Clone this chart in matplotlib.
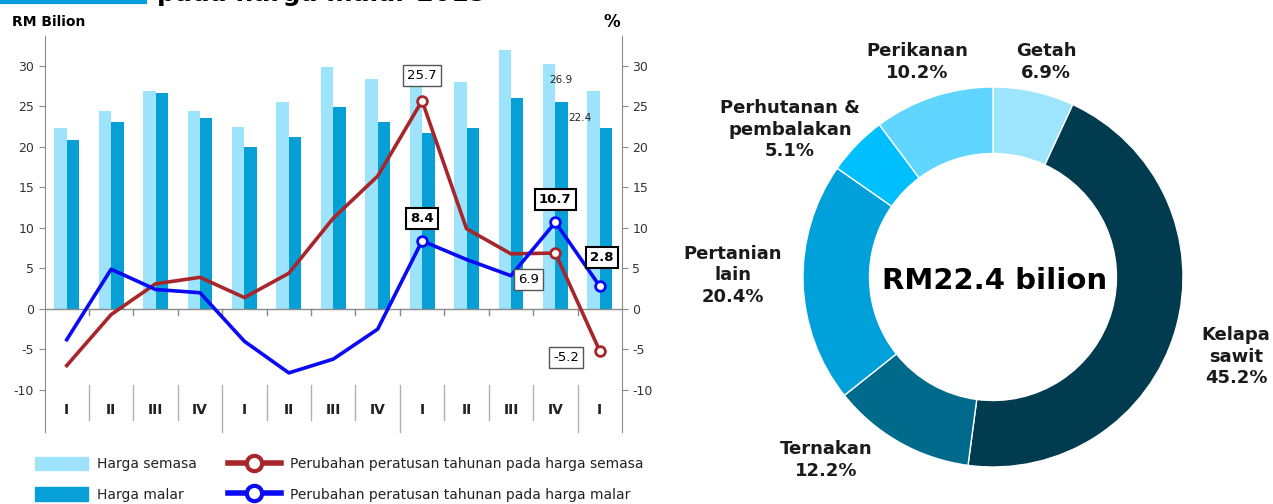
import matplotlib
matplotlib.use("Agg")
import matplotlib.pyplot as plt
from matplotlib.patches import Patch
from matplotlib.lines import Line2D

plt.rcParams['font.family'] = ['DejaVu Sans']
plt.rcParams['axes.unicode_minus'] = False

# ---- data ----
quarters = ['I', 'II', 'III', 'IV', 'I', 'II', 'III', 'IV', 'I', 'II', 'III', 'IV', 'I']
harga_semasa = [22.3, 24.4, 26.9, 24.4, 22.5, 25.5, 29.9, 28.4, 27.7, 28.0, 32.0, 30.3, 26.9]
harga_malar = [20.8, 23.1, 26.6, 23.6, 20.0, 21.2, 24.9, 23.1, 21.7, 22.4, 26.0, 25.5, 22.4]
pct_semasa = [-7.0, -0.7, 3.1, 3.9, 1.4, 4.4, 11.2, 16.4, 25.7, 9.9, 6.8, 6.9, -5.2]
pct_malar = [-3.8, 4.9, 2.4, 2.0, -4.0, -7.9, -6.2, -2.5, 8.4, 6.1, 4.1, 10.7, 2.8]

sectors = ['Getah', 'Kelapa\nsawit', 'Ternakan', 'Pertanian\nlain',
           'Perhutanan &\npembalakan', 'Perikanan']
shares = [6.9, 45.2, 12.2, 20.4, 5.1, 10.2]
total_label = 'RM22.4 bilion'

LIGHT = '#9EE3FC'
DARK = '#06A0D6'
RED = '#A8262B'
BLUE = '#0A0AF5'
GRAY = '#8a8a8a'

fig = plt.figure(figsize=(12.73, 5.04), dpi=100)

# ---- cut-off title at the very top ----
fig.add_artist(Line2D([0, 145 / 1273], [1 - 1.5 / 504] * 2, color='#009FDB', lw=3))
fig.text(157 / 1273, 1 - 0.5 / 504, 'pada harga malar 2015', fontsize=18,
         fontweight='bold', va='baseline', ha='left')

# ---- left: bars + lines ----
ax = fig.add_axes([44.5 / 1273, 1 - 432 / 504, 577.5 / 1273, 396 / 504])
x = list(range(len(quarters)))
w = 0.28
ax.bar([i - w / 2 for i in x], harga_semasa, width=w, color=LIGHT, zorder=2)
ax.bar([i + w / 2 for i in x], harga_malar, width=w, color=DARK, zorder=2)
ax.set_xlim(-0.5, len(quarters) - 0.5)
ax.set_ylim(-15.2, 33.7)
ax.set_yticks(range(-10, 31, 5))
ax.set_xticks([])
for s in ['top', 'bottom']:
    ax.spines[s].set_visible(False)
ax.spines['left'].set_color(GRAY)
ax.spines['right'].set_visible(False)
ax.tick_params(axis='y', colors=GRAY, labelcolor='#333333', labelsize=9, length=4)
ax.axhline(0, color=GRAY, lw=1, zorder=3)

# category separators and labels
for k in range(len(quarters) - 1):
    xb = k + 0.5
    ax.plot([xb, xb], [0, -0.75], color=GRAY, lw=1, zorder=3)
    if k in (3, 7, 11):
        ax.plot([xb, xb], [-9.4, -15.2], color='#b0b0b0', lw=1, clip_on=False)
    else:
        ax.plot([xb, xb], [-9.4, -13.7], color='#b0b0b0', lw=1)
for i, q in enumerate(quarters):
    ax.text(i, -12.5, q, ha='center', va='center', fontsize=10, fontweight='bold',
            color='#222222')

ax2 = ax.twinx()
ax2.set_ylim(ax.get_ylim())
ax2.set_yticks(range(-10, 31, 5))
for s in ['top', 'bottom', 'left']:
    ax2.spines[s].set_visible(False)
ax2.spines['right'].set_color(GRAY)
ax2.tick_params(axis='y', colors=GRAY, labelcolor='#333333', labelsize=9, length=4)

ax2.plot(x, pct_semasa, color=RED, lw=2.6, zorder=4)
ax2.plot(x, pct_malar, color=BLUE, lw=2.6, zorder=5)
mk = dict(marker='o', ms=7, mfc='white', mew=2, ls='none', zorder=6)
for i in (8, 11, 12):
    ax2.plot(x[i], pct_semasa[i], mec=RED, **mk)
for i in (8, 11, 12):
    ax2.plot(x[i], pct_malar[i], mec=BLUE, **mk)

plain = dict(boxstyle='square,pad=0.3', fc='white', ec='#555555', lw=1)
bold = dict(boxstyle='square,pad=0.3', fc='white', ec='black', lw=1.5)
ax2.text(8, 28.8, f'{pct_semasa[8]}', ha='center', va='center', fontsize=9.5, bbox=plain, zorder=7)
ax2.text(10.4, 3.6, f'{pct_semasa[11]}', ha='center', va='center', fontsize=9.5, bbox=plain, zorder=7)
ax2.text(11.24, -6.05, f'{pct_semasa[12]}', ha='center', va='center', fontsize=9.5, bbox=plain, zorder=7)
ax2.text(8, 11.2, f'{pct_malar[8]}', ha='center', va='center', fontsize=9.5, fontweight='bold', bbox=bold, zorder=7)
ax2.text(11, 13.5, f'{pct_malar[11]}', ha='center', va='center', fontsize=9.5, fontweight='bold', bbox=bold, zorder=7)
ax2.text(12.05, 6.3, f'{pct_malar[12]}', ha='center', va='center', fontsize=9.5, fontweight='bold', bbox=bold, zorder=7)
ax2.text(11.13, 28.3, f'{harga_semasa[12]}', ha='center', va='center', fontsize=7.5, color='#222222')
ax2.text(11.55, 23.6, f'{harga_malar[12]}', ha='center', va='center', fontsize=7.5, color='#222222')

fig.text(12 / 1273, 1 - 22 / 504, 'RM Bilion', fontsize=10, fontweight='bold', va='center')
fig.text(612 / 1273, 1 - 22 / 504, '%', fontsize=12, fontweight='bold', va='center', ha='center')

# legend
handles = [Patch(color=LIGHT), Patch(color=DARK),
           Line2D([], [], color=RED, lw=4, marker='o', ms=11, mfc='white', mew=3),
           Line2D([], [], color=BLUE, lw=4, marker='o', ms=11, mfc='white', mew=3)]
labels = ['Harga semasa', 'Harga malar',
          'Perubahan peratusan tahunan pada harga semasa',
          'Perubahan peratusan tahunan pada harga malar']
fig.legend(handles, labels, ncol=2, loc='upper left',
           bbox_to_anchor=(28 / 1273, 1 - 450 / 504), frameon=False,
           fontsize=10, handlelength=3.8, handleheight=1.1, columnspacing=2.2,
           labelspacing=1.15, handletextpad=0.7, borderpad=0, labelcolor='#222222')

# ---- right: donut ----
R = 190
cx, cy = 993, 277
half = 200
ax3 = fig.add_axes([(cx - half) / 1273, 1 - (cy + half) / 504, 2 * half / 1273, 2 * half / 504])
colors = ['#9DE5FD', '#003B4F', '#006A8C', '#00A1DA', '#00BFFF', '#5FD5FF']
ax3.pie(shares, colors=colors, startangle=90, counterclock=False,
        wedgeprops=dict(width=0.35, edgecolor='white', linewidth=1))
ax3.set_xlim(-half / R, half / R)
ax3.set_ylim(-half / R, half / R)
ax3.set_aspect('equal')
ax3.axis('off')

label_pos = [(0.279, 1.132), (1.279, -0.421), (-0.879, -0.963), (-1.368, 0.01),
             (-1.068, 0.774), (-0.40, 1.132)]
for name, val, (lx, ly) in zip(sectors, shares, label_pos):
    ax3.text(lx, ly, f'{name}\n{val}%', ha='center', va='center', fontsize=13,
             fontweight='bold', color='#1a1a1a', linespacing=1.25)
ax3.text(0.01, -0.02, total_label, ha='center', va='center', fontsize=21,
         fontweight='bold', color='black')

fig.savefig('out.png', dpi=100)
